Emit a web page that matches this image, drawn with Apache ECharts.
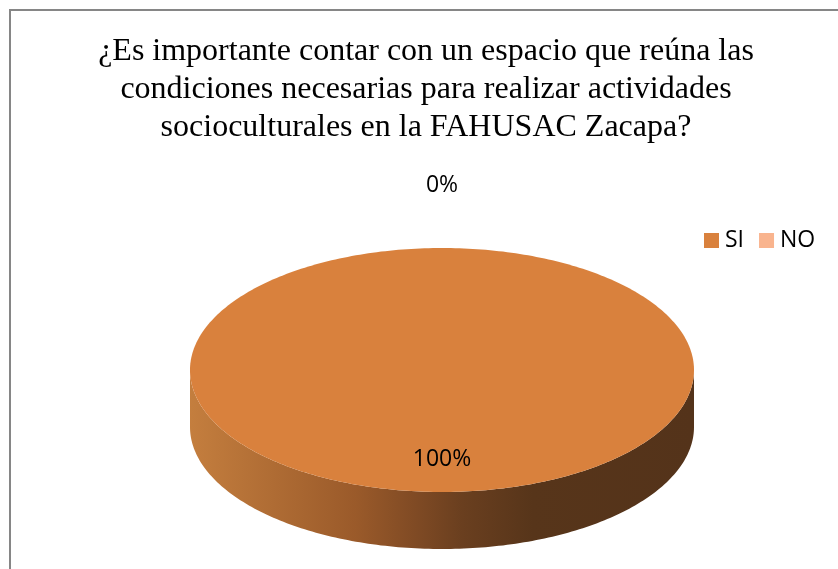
<!DOCTYPE html>
<html>
<head>
<meta charset="utf-8">
<script src="https://cdn.jsdelivr.net/npm/echarts@6/dist/echarts.min.js"></script>
<style>
  html, body { margin: 0; padding: 0; background: #fff; }
  #chart { width: 838px; height: 569px; }
</style>
</head>
<body>
<div id="chart"></div>
<script>
const categories = ['SI', 'NO'];
const values = [100, 0];
const colors = ['#d9813d', '#f9b48e'];

const titleText = '¿Es importante contar con un espacio que reúna las\ncondiciones necesarias para realizar actividades\nsocioculturales en la FAHUSAC Zacapa?';

// pie geometry (pixels)
const cx = 442, cy = 370, rx = 252, ry = 122, depth = 57;
const labelFont = '23px "Open Sans"';

const total = values.reduce((a, b) => a + b, 0);
const starts = [];
values.reduce((acc, v, i) => { starts[i] = acc; return acc + v; }, 0);

const sideFill = {
  type: 'linear', x: cx - rx, y: 0, x2: cx + rx, y2: 0, global: true,
  colorStops: [
    { offset: 0, color: '#c47e3e' },
    { offset: 0.33, color: '#9a5a2a' },
    { offset: 0.45, color: '#7f4a24' },
    { offset: 0.54, color: '#6a3f1f' },
    { offset: 0.68, color: '#57351a' },
    { offset: 1, color: '#54331a' },
  ],
};

const pt = (t, dy) => [cx + rx * Math.cos(t), cy + ry * Math.sin(t) + (dy || 0)];

const arc = (a, b, dy) => {
  const n = Math.max(2, Math.ceil(Math.abs(b - a) / (2 * Math.PI) * 360));
  const pts = [];
  for (let k = 0; k <= n; k++) pts.push(pt(a + (b - a) * k / n, dy));
  return pts;
};

const renderSlice = (params, api) => {
  const f0 = api.value(0) / total;
  const f1 = api.value(1) / total;
  const t0 = -Math.PI / 2 + 2 * Math.PI * f0;
  const t1 = -Math.PI / 2 + 2 * Math.PI * f1;
  const color = api.visual('color');
  const children = [];

  if (t1 > t0) {
    // visible outer wall: part of slice in the front half of the ellipse
    for (let m = -1; m <= 2; m++) {
      const a = Math.max(t0, 2 * Math.PI * m);
      const b = Math.min(t1, Math.PI + 2 * Math.PI * m);
      if (b > a) {
        const pts = arc(a, b, 0).concat(arc(b, a, depth));
        children.push({ type: 'polygon', shape: { points: pts }, style: { fill: sideFill } });
      }
    }
    const full = f1 - f0 >= 0.9999;
    const top = (full ? [] : [[cx, cy]]).concat(arc(t0, t1, 0));
    children.push({ type: 'polygon', shape: { points: top }, style: { fill: color } });
  }

  // data label
  const pct = Math.round((api.value(1) - api.value(0)) / total * 100);
  const tm = (t0 + t1) / 2;
  let lx, ly;
  if (pct >= 10) {
    lx = cx + 0.73 * rx * Math.cos(tm);
    ly = cy + 0.73 * ry * Math.sin(tm);
  } else {
    lx = cx + (rx + 63) * Math.cos(tm);
    ly = cy + (ry + 63) * Math.sin(tm);
  }
  children.push({
    type: 'text',
    style: { x: lx, y: ly, text: pct + '%', fill: '#000', font: labelFont, textAlign: 'center', textVerticalAlign: 'middle' },
    z2: 10,
  });

  return { type: 'group', children };
};

const chart = echarts.init(document.getElementById('chart'), null, { renderer: 'canvas' });

chart.setOption({
  animation: false,
  backgroundColor: '#fff',
  title: {
    text: titleText,
    left: 426,
    top: 33,
    padding: 0,
    textAlign: 'center',
    textStyle: {
      fontFamily: '"Liberation Serif", "Times New Roman", serif',
      fontSize: 32,
      fontWeight: 'normal',
      color: '#000',
      lineHeight: 38,
    },
  },
  legend: {
    data: categories,
    left: 704,
    top: 229,
    padding: 0,
    icon: 'rect',
    itemWidth: 15,
    itemHeight: 15,
    itemGap: 15,
    textStyle: { fontFamily: '"Open Sans", sans-serif', fontSize: 23, color: '#000', padding: [0, 0, 0, 1] },
  },
  graphic: [
    { type: 'rect', shape: { x: 10, y: 10, width: 900, height: 700 }, style: { fill: null, stroke: '#868686', lineWidth: 2 }, silent: true },
  ],
  series: categories.map((name, i) => ({
    type: 'custom',
    name,
    coordinateSystem: 'none',
    itemStyle: { color: colors[i] },
    data: [[starts[i], starts[i] + values[i]]],
    renderItem: renderSlice,
  })),
});
</script>
</body>
</html>
